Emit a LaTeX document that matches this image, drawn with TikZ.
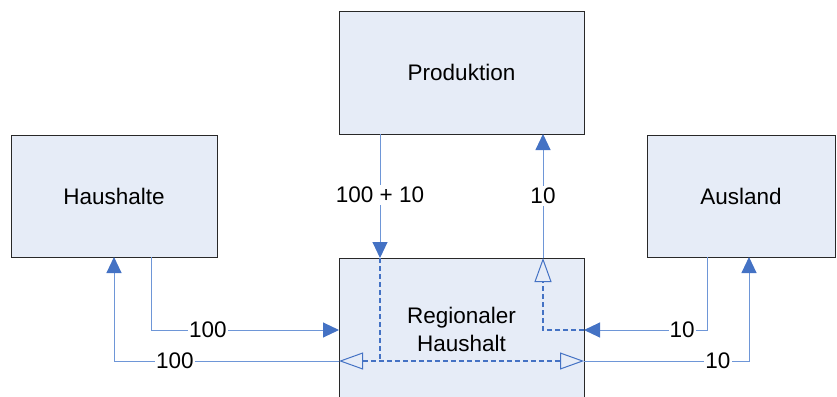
\documentclass[tikz,border=0pt]{standalone}
\usepackage{fontspec}
\setmainfont{Liberation Sans}
\usetikzlibrary{arrows.meta}
\definecolor{boxfill}{RGB}{230,236,247}
\definecolor{boxline}{RGB}{40,40,40}
\definecolor{flowline}{RGB}{110,150,215}
\definecolor{flowdark}{RGB}{68,114,196}
\tikzset{
  box/.style={draw=boxline, line width=0.9pt, fill=boxfill, outer sep=0pt, inner sep=0pt,
    align=center, font=\fontsize{22.5}{28}\selectfont},
  flow/.style={draw=flowline, line width=1pt,
    -{Triangle[length=16pt,width=15pt,color=flowdark]}},
  dflow/.style={draw=flowdark, line width=1.4pt, dash pattern=on 5pt off 3pt},
  opentip/.tip={Triangle[open,length=24pt,width=17pt,color=flowdark,line width=1pt]},
  lbl/.style={fill=white, inner xsep=1pt, inner ysep=2pt, font=\fontsize{22.5}{27}\selectfont}
}
\begin{document}
\begin{tikzpicture}[x=1pt,y=-1pt]
\useasboundingbox (0,0) rectangle (837,396);
\clip (0,0) rectangle (837,396);
\node[box, minimum width=245pt, minimum height=123pt] (prod) at (461.5,72.5) {Produktion};
\node[box, minimum width=206pt, minimum height=122pt] (haus) at (114,196) {Haushalte};
\node[box, minimum width=188pt, minimum height=122pt] (ausl) at (741,196) {Ausland};
\node[box, minimum width=245pt, minimum height=142pt] (reg) at (461.5,329) {Regionaler\\Haushalt};

% Haushalte -> Regionaler Haushalt
\draw[flow] (haus.south -| 151,0) -- (151,330) -- node[lbl,pos=0.303] (l1) {100} (reg.west |- 0,330);
% Regionaler Haushalt -> Haushalte
\draw[flow] (reg.west |- 0,361) -- node[lbl,pos=0.729] (l2) {100} (114,361) -- (haus.south -| 114,0);
% Produktion -> Regionaler Haushalt
\draw[flow] (prod.south -| 380,0) -- node[lbl,pos=0.49] (l3) {100 + 10} (reg.north -| 380,0);
% Regionaler Haushalt -> Produktion
\draw[flow] (reg.north -| 543,0) -- node[lbl,pos=0.5] (l4) {10} (prod.south -| 543,0);
% Ausland -> Regionaler Haushalt
\draw[flow] (ausl.south -| 707,0) -- (707,330) -- node[lbl,pos=0.203] (l5) {10} (reg.east |- 0,330);
% Regionaler Haushalt -> Ausland
\draw[flow] (reg.east |- 0,361) -- node[lbl,pos=0.812] (l6) {10} (749,361) -- (ausl.south -| 749,0);

% internal dashed flows
\coordinate (j) at (380,361);
\draw[dflow] (reg.north -| 380,0) -- (j);
\draw[dflow, opentip-opentip] (reg.west |- 0,361) -- (reg.east |- 0,361);
\draw[dflow, -opentip] (reg.east |- 0,330) -- (543,330) -- (reg.north -| 543,0);
\end{tikzpicture}
\end{document}
